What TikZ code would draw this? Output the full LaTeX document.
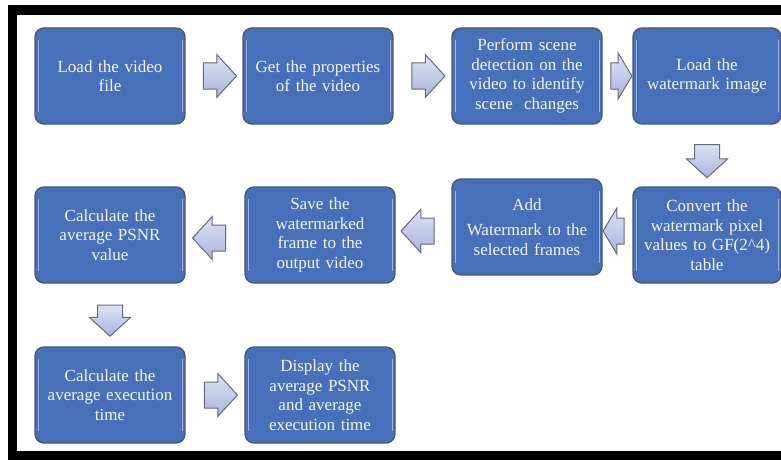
\documentclass[tikz,border=0pt]{standalone}
\usepackage{fontspec}
\setmainfont{Liberation Serif}
\usetikzlibrary{shapes.arrows,calc}
\definecolor{boxblue}{HTML}{4671BA}
\definecolor{boxedge}{HTML}{4E5868}
\definecolor{boxshine}{HTML}{9DB4E2}
\definecolor{arrowtop}{HTML}{DDE2F3}
\definecolor{arrowbot}{HTML}{A8B4DD}
\definecolor{arrowedge}{HTML}{666A78}

\begin{document}
\begin{tikzpicture}[x=1pt, y=-1pt,
  stepbox/.style={rectangle, rounded corners=9pt, draw=boxedge, line width=1.4pt,
    fill=boxblue, text=white!96!black, minimum width=150pt, minimum height=96pt,
    text width=146pt, align=center, inner sep=0pt,
    font=\fontsize{17}{19.5}\selectfont,
    path picture={
      \draw[boxshine, line width=0.9pt]
        ([xshift=3pt, yshift=-12pt]path picture bounding box.north west) --
        ([xshift=3pt, yshift=12pt]path picture bounding box.south west);
      \draw[boxshine, line width=0.9pt]
        ([xshift=-3pt, yshift=-12pt]path picture bounding box.north east) --
        ([xshift=-3pt, yshift=12pt]path picture bounding box.south east);
    }},
  blockarrow/.style={single arrow, draw=arrowedge, line width=1pt,
    top color=arrowtop, bottom color=arrowbot,
    inner xsep=0pt, inner ysep=12.5pt,
    minimum height=33pt, single arrow head extend=8.5pt, single arrow tip angle=95},
  shortarrow/.style={blockarrow, minimum height=21pt, single arrow head extend=10pt,
    single arrow tip angle=118},
  toleft/.style={shape border rotate=180},
  todown/.style={shape border rotate=270, inner xsep=12pt, inner ysep=0pt,
    single arrow head extend=8pt}]

  \useasboundingbox (0,0) rectangle (781,460);
  \fill[white] (0,0) rectangle (781,460);
  % black frame, open on the right
  \draw[black, line width=9.5pt] (800,456) -- (12.5,456) -- (12.5,10) -- (800,10);

  % first row
  \node[stepbox] (load)   at (110,76)  {Load the video\\file};
  \node[stepbox] (props)  at (318,76)  {Get the properties\\of the video};
  \node[stepbox] (scene)  at (527,76)  {Perform scene\\detection on the\\video to identify\\scene \ changes};
  \node[stepbox, minimum width=148pt] (wmark) at (707,76) {Load the\\watermark image};

  % second row, read from right to left
  \node[stepbox, minimum width=148pt] (convert) at (707,235) {Convert the\\watermark pixel\\values to GF(2\^{}4)\\table};
  \node[stepbox] (embed)  at (527,227) {Add\\[6pt]Watermark to the\\selected frames};
  \node[stepbox] (save)   at (320,235) {Save the\\watermarked\\frame to the\\output video};
  \node[stepbox] (psnr)   at (110,235) {Calculate the\\average PSNR\\value};

  % last row
  \node[stepbox] (exectime) at (110,395) {Calculate the\\average execution\\time};
  \node[stepbox] (display)  at (320,395) {Display the\\average PSNR\\and average\\execution time};

  % block arrows between the steps
  \node[blockarrow] (a1) at ($(load.east)!0.5!(props.west)$) {};
  \node[blockarrow] (a2) at ($(props.east)!0.5!(scene.west)$) {};
  \node[shortarrow] (a3) at ($(scene.east)!0.5!(wmark.west)$) {};
  \node[blockarrow, todown] (a4) at ($(wmark.south)!0.5!(convert.north)$) {};
  \node[shortarrow, toleft] (a5) at ($(convert.west)!0.5!(embed.east)$) {};
  \node[blockarrow, toleft] (a6) at ($(embed.west)!0.5!(save.east)$) {};
  \node[blockarrow, toleft] (a7) at ($(save.west)!0.5!(psnr.east)+(0,3)$) {};
  \node[blockarrow, todown, minimum height=31pt] (a8) at ($(psnr.south)!0.5!(exectime.north)$) {};
  \node[blockarrow] (a9) at ($(exectime.east)!0.5!(display.west)$) {};
\end{tikzpicture}
\end{document}
